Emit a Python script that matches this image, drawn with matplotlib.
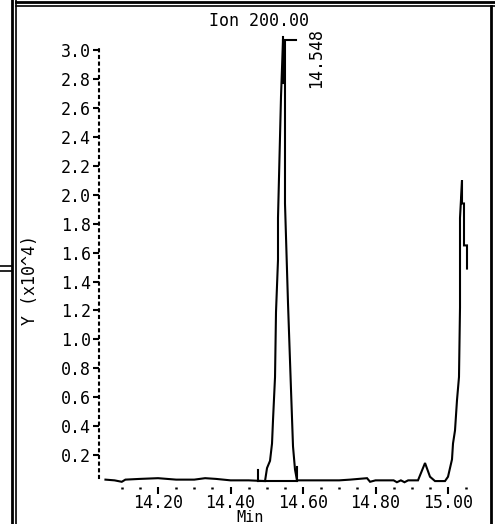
import matplotlib
matplotlib.use("Agg")
import matplotlib.pyplot as plt
from matplotlib.lines import Line2D

# trace: retention time (min), abundance (x10^4)
rt = [14.055, 14.08, 14.10, 14.11, 14.15, 14.20, 14.25, 14.30, 14.33, 14.36,
      14.40, 14.45, 14.4952, 14.5007, 14.5090, 14.5145, 14.5172, 14.5228,
      14.5255, 14.5310, 14.5310, 14.5393, 14.5448, 14.5503, 14.5503, 14.5586,
      14.5669, 14.5724, 14.5779, 14.5834, 14.60, 14.65, 14.70, 14.73, 14.7766,
      14.785, 14.80, 14.85, 14.859, 14.87, 14.88, 14.89, 14.9172, 14.9366,
      14.9503, 14.9641, 14.9917, 15.0000, 15.0110, 15.0138, 15.0193, 15.0248,
      15.0303, 15.0331, 15.0331, 15.0386, 15.0386, 15.0441, 15.0441, 15.0524,
      15.0524]
abund = [0.03, 0.025, 0.015, 0.03, 0.035, 0.04, 0.03, 0.03, 0.04, 0.035,
         0.025, 0.025, 0.02, 0.11, 0.16, 0.28, 0.44, 0.74,
         1.19, 1.55, 1.84, 2.68, 3.07, 3.07, 1.94, 1.25,
         0.65, 0.26, 0.10, 0.025, 0.025, 0.025, 0.025, 0.03, 0.04,
         0.015, 0.025, 0.025, 0.012, 0.025, 0.012, 0.025, 0.025, 0.145,
         0.05, 0.02, 0.02, 0.05, 0.17, 0.28, 0.37, 0.58,
         0.74, 1.22, 1.84, 2.10, 1.94, 1.94, 1.65, 1.65,
         1.49]

peak_rt = 14.548
peak_top = 3.07
int_start = 14.476
int_end = 14.583
int_base = 0.02

yticks = [0.2, 0.4, 0.6, 0.8, 1.0, 1.2, 1.4, 1.6, 1.8, 2.0, 2.2, 2.4, 2.6, 2.8, 3.0]
xticks = [14.20, 14.40, 14.60, 14.80, 15.00]
xminor = [14.10, 14.15, 14.25, 14.30, 14.35, 14.45, 14.50, 14.55, 14.65, 14.70,
          14.75, 14.85, 14.90, 14.95, 15.05]

plt.rcParams['font.family'] = ['DejaVu Sans Mono', 'DejaVu Sans']
fs = 12
W, H = 495, 524

fig = plt.figure(figsize=(W / 100, H / 100), dpi=100)
ax = fig.add_axes([99 / W, 1 - 487 / H, (491 - 99) / W, (487 - 30) / H])

ax.plot(rt, abund, color='black', lw=1.5, solid_joinstyle='miter')
# integration baseline and markers
ax.plot([int_start, int_end], [int_base, int_base], color='black', lw=1.5)
ax.plot([int_start, int_start], [int_base, 0.10], color='black', lw=1.5)
ax.plot([int_end, int_end], [int_base, 0.12], color='black', lw=1.5)
# apex marker
ax.plot([peak_rt - 0.004, peak_rt - 0.004], [peak_top - 0.3, peak_top + 0.02], color='black', lw=1.5)
ax.plot([peak_rt - 0.004, peak_rt + 0.032], [peak_top, peak_top], color='black', lw=1.5)
ax.annotate('%.3f' % peak_rt, xy=(peak_rt, peak_top), xytext=(23, 9),
            textcoords='offset points', rotation=90, ha='center', va='top',
            fontsize=fs)

ax.set_xlim(14.0372, 15.1186)
ax.set_ylim(-0.021, 3.14)

for s in ['top', 'right', 'bottom']:
    ax.spines[s].set_visible(False)
ax.spines['left'].set_linestyle((0, (1, 2.2)))
ax.spines['left'].set_linewidth(1.5)
ax.spines['left'].set_bounds(0.04, 3.02)

ax.set_yticks(yticks)
ax.set_yticklabels(['%.1f' % v for v in yticks], fontsize=fs)
ax.tick_params(axis='y', direction='out', length=4, width=1.5, pad=2)
ax.set_xticks(xticks)
ax.set_xticklabels(['%.2f' % v for v in xticks], fontsize=fs)
ax.set_xticks(xminor, minor=True)
ax.tick_params(axis='x', which='major', direction='out', length=5, width=1.5, pad=0)
ax.tick_params(axis='x', which='minor', direction='out', length=1.5, width=1.8, pad=0)
ax.set_xlabel('Min', fontsize=11)
ax.xaxis.set_label_coords((250 - 99) / 392, (487 - 525) / 457)
ax.xaxis.label.set_va('bottom')
ax.set_ylabel('Y (x10^4)', fontsize=fs)
ax.yaxis.set_label_coords(-69 / 392, (487 - 280) / 457)
ax.yaxis.label.set_va('center')

fig.text(259 / W, 1 - 21 / H, 'Ion 200.00', ha='center', va='center', fontsize=fs)

# window frame lines
def fline(x0, y0, x1, y1, lw=2):
    fig.add_artist(Line2D([x0 / W, x1 / W], [1 - y0 / H, 1 - y1 / H],
                          color='black', lw=lw, transform=fig.transFigure))

fline(12, 0, 12, H)
fline(16, 0, 16, H, lw=1.2)
fline(16, 2, W, 2)
fline(16, 6, W, 6, lw=1.2)
fline(491, 6, 491, H)
fline(0, 266, 12, 266, lw=1.2)
fline(0, 271, 12, 271, lw=1.2)

fig.savefig('out.png', dpi=100)
